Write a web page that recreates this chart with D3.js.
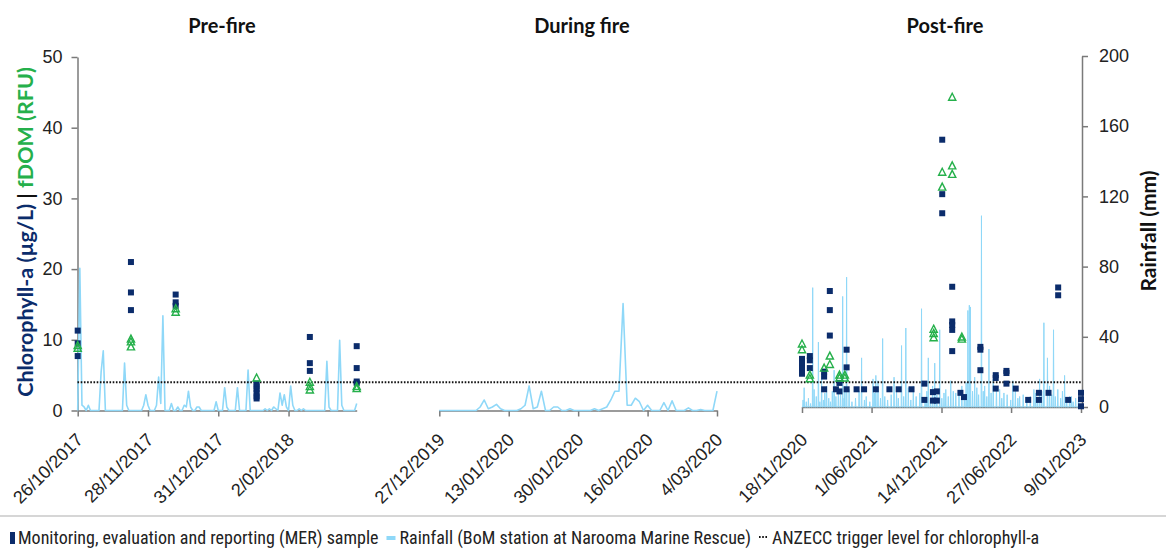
<!DOCTYPE html>
<html><head><meta charset="utf-8">
<script src="https://cdn.jsdelivr.net/npm/d3@7"></script>
<style>body{margin:0;background:#fff}svg{display:block}</style>
</head><body>
<svg id="c" width="1166" height="551"></svg>
<script>
// ---------------- DATA ----------------
const panelTitles = ["Pre-fire", "During fire", "Post-fire"];
const preRange = ["2017-10-26", "2018-03-06"];
const durRange = ["2019-12-27", "2020-03-04"];
const postRange = ["2020-11-18", "2023-01-09"];
const preTicks = ["2017-10-26", "2017-11-28", "2017-12-31", "2018-02-02"];
const durTicks = ["2019-12-27", "2020-01-13", "2020-01-30", "2020-02-16", "2020-03-04"];
const postTicks = ["2020-11-18", "2021-06-01", "2021-12-14", "2022-06-27", "2023-01-09"];
const chlTicks = [0, 10, 20, 30, 40, 50];
const rainTicks = [0, 40, 80, 120, 160, 200];
const triggerLevel = 4;

// daily rainfall (mm) from preRange[0]
const preRainDaily = [
  0,81,3,2,0,3,0,0,0,0,
  0,22,34,0,0,0,0,0,0,0,
  0,0,27,3,0,0,0,0,0,0,
  0,3,9,3,0,0,0,3,19,4,
  54,0,0,0,4,0,0,2,0,0,
  3,2,11,2,0,0,2,2,0,0,
  0,0,0,0,0,5,0,0,0,13,
  2,0,0,0,0,13,0,0,0,0,
  23,0,0,0,0,0,0,0,1,0,
  1,0,2,1,0,10,3,9,2,0,
  14,3,0,0,1,0,1,0,0,0,
  0,0,0,0,0,0,0,28,2,0,
  0,0,0,40,3,0,0,0,0,0,
  0,4
];
// daily rainfall (mm) from durRange[0]
const durRainDaily = [
  0,0,0,0,0,0,0,0,0,0,
  2,6,1,2,3.5,1,0,0,0,0,
  1,3,14,1,2,11,0,0,2,2,
  0,0,1,0,0,0,0,0,1,0,
  1,2,6,11,11,61,3,3,7,5,
  0,3,0,0,0,4.5,0,5.5,0,0,
  0,1.5,0,0,0.5,0,0,0,11
];
// post-fire rain days: [days after postRange[0], mm]
const postRainEvents = [
  [3,4],[6,11],[12,3],[18,5],[24,2],[30,68],[34,10],[40,6],[46,37],[50,3],[55,18],[60,4],[64,8],
  [69,12],[75,5],[80,3],[85,9],[90,21],[95,6],[102,13],[108,7],[114,63],[118,5],[120,12],[125,74],
  [132,10],[140,3],[150,5],[160,9],[167,28],[175,4],[180,6],[190,3],[199,16],[203,8],[207,18],
  [213,15],[220,5],[226,39],[232,6],[240,4],[250,7],[258,17],[265,9],[270,5],[279,35],[285,6],
  [291,45],[298,11],[305,4],[312,12],[320,6],[330,8],[335,56],[345,5],[350,9],[354,28],[360,4],
  [366,12],[372,25],[378,7],[386,44],[392,5],[398,8],[403,10],[410,6],[417,15],[424,9],[431,8],
  [440,7],[448,12],[455,6],[460,14],[465,55],[469,58],[472,57],[478,9],[484,17],[490,11],[495,7],
  [503,109],[508,9],[512,12],[518,6],[524,33],[530,8],[536,16],[545,11],[554,10],[560,5],[566,8],
  [575,7],[585,4],[591,15],[598,9],[605,5],[610,6],[620,7],[630,4],[640,6],[650,10],[655,8],
  [660,5],[666,16],[672,9],[678,48],[688,28],[694,12],[700,7],[705,44],[710,6],[717,10],[725,5],
  [730,9],[736,18],[742,4],[750,6],[755,6],[760,3],[767,5],[775,4]
];

// MER chlorophyll-a samples (µg/L)
const preChl = [
  ["2017-10-26", [11.3, 9.5, 7.7]],
  ["2017-11-20", [21.0, 16.7, 14.2]],
  ["2017-12-11", [16.4, 15.3, 14.8]],
  ["2018-01-18", [3.8, 3.4, 3.0, 2.5, 2.0, 1.7]],
  ["2018-02-12", [10.4, 6.7, 5.6]],
  ["2018-03-06", [9.1, 6.0, 4.1, 3.9]]
];
// fDOM samples (RFU)
const preFdom = [
  ["2017-10-26", [9.2, 8.8]],
  ["2017-11-20", [10.1, 9.7, 9.0]],
  ["2017-12-11", [14.4, 13.9]],
  ["2018-01-18", [4.6]],
  ["2018-02-12", [4.0, 3.4, 2.9]],
  ["2018-03-06", [3.4, 3.1]]
];
const postChl = [
  ["2020-11-18", [7.3, 6.6, 5.9, 5.2]],
  ["2020-12-10", [7.7, 7.1, 6.0]],
  ["2021-01-19", [5.5, 4.8, 3.0]],
  ["2021-02-04", [16.9, 14.2, 10.6]],
  ["2021-02-21", [3.0]],
  ["2021-03-03", [3.9, 2.7]],
  ["2021-03-23", [8.6, 6.1, 3.0]],
  ["2021-04-20", [3.0]],
  ["2021-05-11", [3.0]],
  ["2021-06-13", [3.0]],
  ["2021-07-21", [3.0]],
  ["2021-08-16", [3.0]],
  ["2021-09-21", [3.0]],
  ["2021-10-27", [3.8, 1.5]],
  ["2021-11-20", [2.6, 1.4]],
  ["2021-12-01", [2.7, 1.4]],
  ["2021-12-16", [38.3, 30.6, 27.9]],
  ["2022-01-13", [17.5, 12.6, 12.1, 11.4, 8.4]],
  ["2022-02-05", [2.5]],
  ["2022-02-15", [1.9]],
  ["2022-04-02", [9.0, 8.6, 5.7]],
  ["2022-05-15", [5.0, 4.6, 3.1]],
  ["2022-06-14", [5.6, 5.3, 3.8]],
  ["2022-07-10", [3.1]],
  ["2022-08-14", [1.5]],
  ["2022-09-13", [2.5, 1.5]],
  ["2022-10-10", [2.5]],
  ["2022-11-06", [17.4, 16.3]],
  ["2022-12-04", [1.5]],
  ["2023-01-09", [2.5, 1.6, 0.6]]
];
const postFdom = [
  ["2020-11-18", [9.4, 8.6]],
  ["2020-12-10", [5.0, 4.5]],
  ["2021-01-19", [6.0]],
  ["2021-02-04", [7.7, 6.5]],
  ["2021-03-03", [5.0, 4.6]],
  ["2021-03-18", [5.0, 4.6]],
  ["2021-11-22", [11.5, 10.9, 10.3]],
  ["2021-12-16", [33.7, 31.6]],
  ["2022-01-13", [44.3, 34.6, 33.4]],
  ["2022-02-09", [10.4, 10.1]]
];
const legendItems = [
  "Monitoring, evaluation and reporting (MER) sample",
  "Rainfall (BoM station at Narooma Marine Rescue)",
  "ANZECC trigger level for chlorophyll-a"
];

// ---------------- DRAW ----------------
const NAVY = "#0b2c6b", GREEN = "#25b04b", RAIN = "#8fd8f8", AXIS = "#7a7a7a";
const P = d3.utcParse("%Y-%m-%d");
const fmt = d3.utcFormat("%-d/%m/%Y");
const svg = d3.select("#c");

const yChl = d3.scaleLinear().domain([0, 50]).range([410.5, 57]);
const yRainA = d3.scaleLinear().domain([0, 200]).range([410.5, 59.5]);
const yRainB = d3.scaleLinear().domain([0, 200]).range([407, 56]);

const xPre = d3.scaleUtc().domain(preRange.map(P)).range([77.7, 356.7]);
const xDur = d3.scaleUtc().domain(durRange.map(P)).range([439.3, 717]);
const xPost = d3.scaleUtc().domain(postRange.map(P)).range([802, 1081]);

const tickFont = "'Liberation Sans', Arial, Helvetica, sans-serif";

function styleAxis(g) {
  g.attr("font-family", null).attr("font-size", null);
  g.select(".domain").attr("stroke", AXIS).attr("stroke-width", 1.5);
  g.selectAll(".tick line").attr("stroke", AXIS).attr("stroke-width", 1.5);
  g.selectAll(".tick text").attr("fill", "#222").style("font-family", tickFont).style("font-size", "18px");
}

function xAxis(x, ticks, y0) {
  const g = svg.append("g").attr("transform", `translate(0,${y0})`)
    .call(d3.axisBottom(x).tickValues(ticks.map(P)).tickFormat(fmt).tickSize(6).tickSizeOuter(0));
  styleAxis(g);
  g.selectAll(".tick text").attr("x", 0).attr("y", 0).attr("dy", 0)
    .attr("text-anchor", "end").attr("transform", `translate(6,${441 - y0}) rotate(-45)`);
}

xAxis(xPre, preTicks, 410.5);
xAxis(xDur, durTicks, 410.5);
xAxis(xPost, postTicks, 407);

// left axis
const gl = svg.append("g").attr("transform", "translate(77.5,0)")
  .call(d3.axisLeft(yChl).tickValues(chlTicks).tickSize(6).tickPadding(9).tickSizeOuter(0));
styleAxis(gl);
// right axis
const gr = svg.append("g").attr("transform", "translate(1082,0)")
  .call(d3.axisRight(yRainB).tickValues(rainTicks).tickSize(6).tickPadding(11).tickSizeOuter(0));
styleAxis(gr);

// rainfall
function dailySeries(start, arr) {
  const s = P(start);
  return arr.map((v, i) => [d3.utcDay.offset(s, i), v]);
}
const preRain = dailySeries(preRange[0], preRainDaily);
const durRain = dailySeries(durRange[0], durRainDaily);
const postStartDate = P(postRange[0]);
const postDays = d3.utcDay.count(postStartDate, P(postRange[1]));
const evMap = new Map(postRainEvents.map(d => [d[0], d[1]]));
const postRain = d3.range(postDays + 1).map(i => [d3.utcDay.offset(postStartDate, i), evMap.get(i) || 0]);

function rainLine(data, x, y, w) {
  svg.append("path").datum(data)
    .attr("d", d3.line().x(d => x(d[0])).y(d => y(d[1])))
    .attr("fill", "none").attr("stroke", RAIN).attr("stroke-width", w)
    .attr("stroke-linejoin", "round");
}
rainLine(preRain, xPre, yRainA, 1.6);
rainLine(durRain, xDur, yRainA, 1.6);
rainLine(postRain, xPost, yRainB, 1.0);

// trigger level
svg.append("line")
  .attr("x1", 77.5).attr("x2", 1082)
  .attr("y1", yChl(triggerLevel)).attr("y2", yChl(triggerLevel))
  .attr("stroke", "#111").attr("stroke-width", 2).attr("stroke-dasharray", "1.6,1.6");

// samples
function flat(groups) {
  const out = [];
  groups.forEach(([d, vals]) => vals.forEach(v => out.push([P(d), v])));
  return out;
}
function squares(groups, x) {
  svg.append("g").selectAll("rect").data(flat(groups)).join("rect")
    .attr("x", d => x(d[0]) - 3).attr("y", d => yChl(d[1]) - 3)
    .attr("width", 6).attr("height", 6).attr("fill", NAVY);
}
function triangles(groups, x) {
  svg.append("g").selectAll("path").data(flat(groups)).join("path")
    .attr("d", d => {
      const cx = x(d[0]), cy = yChl(d[1]);
      return `M${cx},${cy - 4}L${cx + 3.6},${cy + 3}L${cx - 3.6},${cy + 3}Z`;
    })
    .attr("fill", "none").attr("stroke", GREEN).attr("stroke-width", 1.4);
}
squares(preChl, xPre);
triangles(preFdom, xPre);
squares(postChl, xPost);
triangles(postFdom, xPost);

// panel titles
const titleX = [222, 582, 945];
svg.selectAll("text.ptitle").data(panelTitles).join("text")
  .attr("class", "ptitle")
  .attr("x", (d, i) => titleX[i]).attr("y", 33)
  .attr("text-anchor", "middle")
  .style("font-family", "Lato, 'Open Sans', sans-serif").style("font-weight", 700).style("font-size", "20px")
  .attr("fill", "#111").text(d => d);

// axis titles
const lt = svg.append("text").attr("transform", "translate(33,232) rotate(-90)")
  .attr("text-anchor", "middle")
  .style("font-family", "Lato, 'Open Sans', sans-serif").style("font-weight", 700).style("font-size", "21.5px");
lt.append("tspan").attr("fill", NAVY).text("Chlorophyll-a (µg/L) ");
lt.append("tspan").attr("fill", "#111").text("| ");
lt.append("tspan").attr("fill", GREEN).text("fDOM (RFU)");

svg.append("text").attr("transform", "translate(1156,231) rotate(-90)")
  .attr("text-anchor", "middle")
  .style("font-family", "Lato, 'Open Sans', sans-serif").style("font-weight", 700).style("font-size", "21px")
  .attr("fill", "#111").text("Rainfall (mm)");

// divider
svg.append("line").attr("x1", 0).attr("x2", 1166).attr("y1", 516).attr("y2", 516)
  .attr("stroke", "#c9c9c9").attr("stroke-width", 1.5);

// legend
const lg = svg.append("g");
const legFont = "'Liberation Sans Narrow', 'Roboto Condensed', 'Roboto', sans-serif";
let lx = 10;
const ly = 544;
legendItems.forEach((t, i) => {
  if (i === 0) {
    lg.append("rect").attr("x", lx).attr("y", ly - 12).attr("width", 5).attr("height", 12).attr("fill", NAVY);
    lx += 8;
  } else if (i === 1) {
    lg.append("rect").attr("x", lx).attr("y", ly - 8).attr("width", 9).attr("height", 4).attr("fill", RAIN);
    lx += 13;
  } else {
    lg.append("line").attr("x1", lx).attr("x2", lx + 9).attr("y1", ly - 7).attr("y2", ly - 7)
      .attr("stroke", "#111").attr("stroke-width", 2).attr("stroke-dasharray", "1.6,1.6");
    lx += 13;
  }
  const tx = lg.append("text").attr("x", lx).attr("y", ly)
    .style("font-family", legFont).style("font-size", "18px").attr("fill", "#222").text(t);
  lx += tx.node().getComputedTextLength() + 8;
});
</script>
</body></html>
